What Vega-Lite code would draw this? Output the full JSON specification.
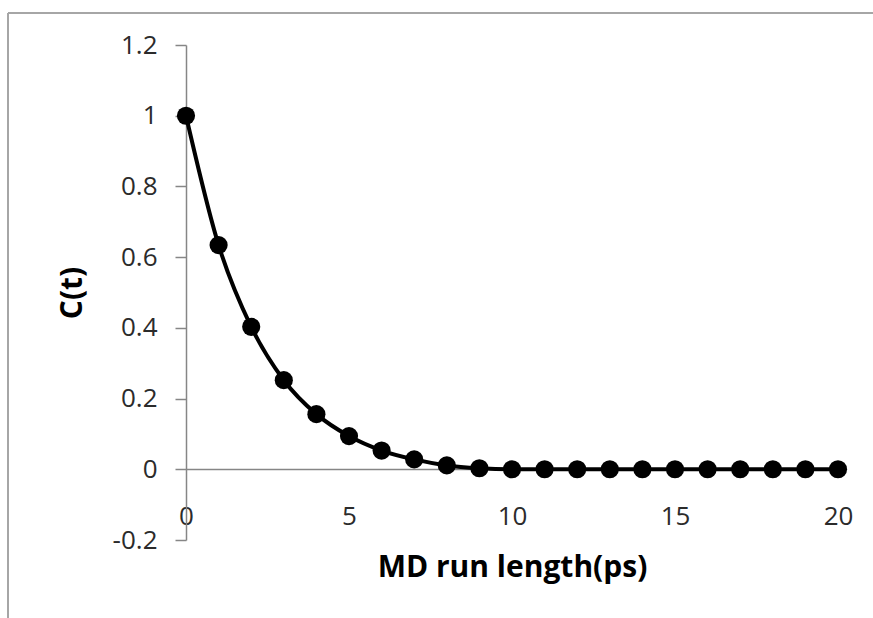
{
  "$schema": "https://vega.github.io/schema/vega-lite/v6.json",
  "autosize": {"type": "none"},
  "width": 652,
  "height": 495,
  "padding": {"left": 186, "top": 45, "right": 35, "bottom": 78},
  "background": "white",
  "config": {"view": {"stroke": null}, "font": "Open Sans"},
  "data": {"values": [
    {"t": 0, "c": 1.0},
    {"t": 1, "c": 0.634},
    {"t": 2, "c": 0.403},
    {"t": 3, "c": 0.252},
    {"t": 4, "c": 0.156},
    {"t": 5, "c": 0.094},
    {"t": 6, "c": 0.053},
    {"t": 7, "c": 0.028},
    {"t": 8, "c": 0.011},
    {"t": 9, "c": 0.003},
    {"t": 10, "c": 0.0},
    {"t": 11, "c": 0.0},
    {"t": 12, "c": 0.0},
    {"t": 13, "c": 0.0},
    {"t": 14, "c": 0.0},
    {"t": 15, "c": 0.0},
    {"t": 16, "c": 0.0},
    {"t": 17, "c": 0.0},
    {"t": 18, "c": 0.0},
    {"t": 19, "c": 0.0},
    {"t": 20, "c": 0.0}
  ]},
  "layer": [
    {
      "mark": {"type": "rule", "color": "#a6a6a6", "strokeWidth": 2, "clip": false},
      "encoding": {
        "y": {"datum": 1.2905, "type": "quantitative", "scale": {"domain": [-0.2, 1.2], "nice": false, "zero": false}},
        "x": {"datum": -5.46, "type": "quantitative", "scale": {"domain": [0, 20], "nice": false, "zero": false}},
        "x2": {"datum": 21.8}
      }
    },
    {
      "mark": {"type": "rule", "color": "#a6a6a6", "strokeWidth": 2, "clip": false},
      "encoding": {
        "x": {"datum": -5.46, "type": "quantitative"},
        "y": {"datum": 1.2905, "type": "quantitative"},
        "y2": {"datum": -0.5}
      }
    },
    {
      "mark": {"type": "line", "color": "black", "strokeWidth": 4, "interpolate": "monotone", "clip": false},
      "encoding": {
        "x": {
          "field": "t", "type": "quantitative",
          "scale": {"domain": [0, 20], "nice": false, "zero": false},
          "axis": {
            "values": [0, 5, 10, 15, 20],
            "offset": -71,
            "grid": false,
            "ticks": false,
            "tickSize": 0,
            "domainColor": "#868686",
            "domainWidth": 1.5,
            "labelFont": "Open Sans",
            "labelFontSize": 26,
            "labelColor": "#2b2b2b",
            "labelPadding": 34,
            "labelFlush": false,
            "title": "MD run length(ps)",
            "titleFont": "Open Sans",
            "titleFontSize": 30,
            "titleFontWeight": "bold",
            "titleColor": "black",
            "titlePadding": 23
          }
        },
        "y": {
          "field": "c", "type": "quantitative",
          "scale": {"domain": [-0.2, 1.2], "nice": false, "zero": false},
          "axis": {
            "values": [-0.2, 0, 0.2, 0.4, 0.6, 0.8, 1, 1.2],
            "labelExpr": "'' + datum.value",
            "grid": false,
            "tickSize": 11,
            "tickColor": "#868686",
            "tickWidth": 1.5,
            "domainColor": "#868686",
            "domainWidth": 1.5,
            "labelFont": "Open Sans",
            "labelFontSize": 26,
            "labelColor": "#2b2b2b",
            "labelPadding": 18,
            "labelFlush": false,
            "title": "C(t)",
            "titleFont": "Open Sans",
            "titleFontSize": 30,
            "titleFontWeight": "bold",
            "titleColor": "black",
            "titlePadding": 25
          }
        }
      }
    },
    {
      "mark": {"type": "point", "filled": true, "color": "black", "opacity": 1, "size": 330, "shape": "circle"},
      "encoding": {
        "x": {"field": "t", "type": "quantitative"},
        "y": {"field": "c", "type": "quantitative"}
      }
    }
  ]
}
